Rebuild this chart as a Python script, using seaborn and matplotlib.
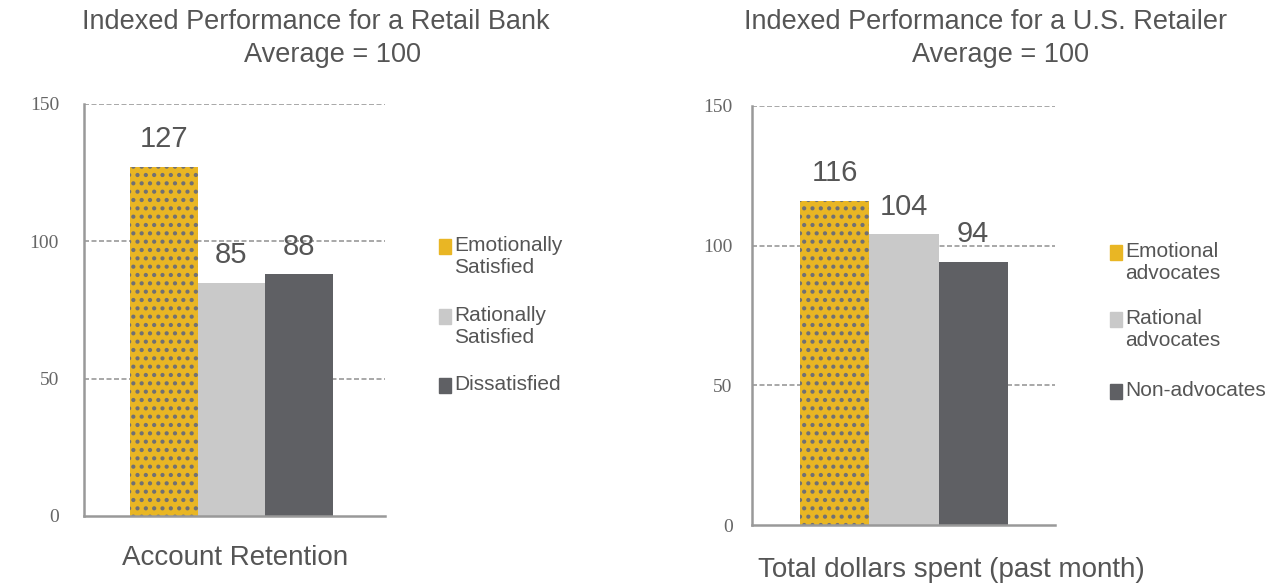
import matplotlib
matplotlib.use("Agg")
import matplotlib.pyplot as plt
from matplotlib.patches import Rectangle
import seaborn as sns
import pandas as pd

# chart data
bank_groups = ['Emotionally\nSatisfied', 'Rationally\nSatisfied', 'Dissatisfied']
bank_values = [127, 85, 88]
retail_groups = ['Emotional\nadvocates', 'Rational\nadvocates', 'Non-advocates']
retail_values = [116, 104, 94]
y_ticks = [0, 50, 100, 150]

colors = ['#E9B624', '#C9C9C9', '#5F6064']
text_col = '#555555'

sns.set_theme(style='white')
plt.rcParams['font.family'] = ['Liberation Sans', 'DejaVu Sans']
plt.rcParams['hatch.linewidth'] = 1.8

W, H = 1281, 586
fig = plt.figure(figsize=(W / 100, H / 100), dpi=100)


def px_axes(x0, x1, ytop, ybot):
    return fig.add_axes([x0 / W, (H - ybot) / H, (x1 - x0) / W, (ybot - ytop) / H])


def draw_panel(ax, groups, values, xlim, tickpad):
    df = pd.DataFrame({'group': groups, 'value': values})
    sns.barplot(data=df, x='group', y='value', hue='group', palette=colors,
                width=1.0, dodge=False, legend=False, ax=ax, saturation=1)
    for p in ax.patches:
        p.set_linewidth(0)
    # dotted texture on the first bar
    ax.patches[0].set_hatch('..')
    ax.patches[0].set_edgecolor('#707074')
    for i, v in enumerate(values):
        ax.text(i, v + 5, str(v), ha='center', va='bottom', fontsize=21,
                color=text_col)
    ax.set_xlim(*xlim)
    ax.set_ylim(0, 150)
    ax.set_yticks(y_ticks)
    ax.set_yticklabels([str(t) for t in y_ticks], family='Liberation Serif',
                       fontsize=14, color='#666666')
    ax.tick_params(axis='y', length=0, pad=tickpad)
    ax.set_xticks([])
    ax.set_xlabel('')
    ax.set_ylabel('')
    for t in y_ticks[1:]:
        ax.axhline(t, color='#999999', lw=1.2, ls=(0, (3, 1.5)), zorder=0)
    for s in ['top', 'right']:
        ax.spines[s].set_visible(False)
    for s in ['left', 'bottom']:
        ax.spines[s].set_color('#999999')
        ax.spines[s].set_linewidth(1.8)


def draw_legend(labels, sq_x, text_x, line_ys):
    # line_ys: y centers of the first line of each entry (pixels)
    for lab, y, c in zip(labels, line_ys, colors):
        fig.patches.append(Rectangle((sq_x / W, (H - y - 8) / H), 12 / W, 15 / H,
                                     transform=fig.transFigure, color=c))
        fig.text(text_x / W, (H - y + 10) / H, lab, ha='left', va='top',
                 fontsize=15, color=text_col, linespacing=1.2,
                 transform=fig.transFigure)


ax1 = px_axes(84, 385, 104, 516)
draw_panel(ax1, bank_groups, bank_values, (-1.18, 3.27), 18)
ax2 = px_axes(752, 1055, 106, 525)
draw_panel(ax2, retail_groups, retail_values, (-1.19, 3.18), 14)

draw_legend(bank_groups, 439, 454, [246, 316, 385])
draw_legend(retail_groups, 1110, 1125, [252, 319, 391])

# titles
title_size = 19.5
fig.text(316 / W, 1 - 22 / H, 'Indexed Performance for a Retail Bank',
         ha='center', va='center', fontsize=title_size, color=text_col)
fig.text(332 / W, 1 - 55 / H, 'Average = 100', ha='center', va='center',
         fontsize=title_size, color=text_col)
fig.text(986 / W, 1 - 22 / H, 'Indexed Performance for a U.S. Retailer',
         ha='center', va='center', fontsize=title_size, color=text_col)
fig.text(1000 / W, 1 - 55 / H, 'Average = 100', ha='center', va='center',
         fontsize=title_size, color=text_col)

# axis labels
fig.text(235 / W, 1 - 558 / H, 'Account Retention', ha='center', va='center',
         fontsize=20, color=text_col)
fig.text(951 / W, 1 - 570 / H, 'Total dollars spent (past month)', ha='center',
         va='center', fontsize=20, color=text_col)

fig.savefig('out.png', dpi=100)
